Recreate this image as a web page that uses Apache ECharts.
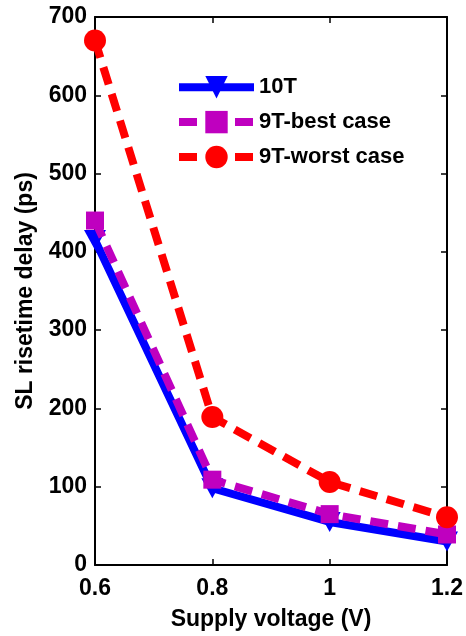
<!DOCTYPE html>
<html>
<head>
<meta charset="utf-8">
<script src="https://cdn.jsdelivr.net/npm/echarts@6/dist/echarts.min.js"></script>
<style>
  html, body { margin: 0; padding: 0; background: #fff; }
  #chart { width: 466px; height: 636px; }
</style>
</head>
<body>
<div id="chart"></div>
<script>
// Supply voltage sweep (V)
const voltages = [0.6, 0.8, 1.0, 1.2];
// SL risetime delay (ps) for each cell design
const delay10T = [415, 98, 55, 30];
const delay9TBest = [440, 109, 65, 39];
const delay9TWorst = [670, 189, 106, 61];

const seriesNames = ['10T', '9T-best case', '9T-worst case'];
const xTicks = [0.6, 0.8, 1.0, 1.2];
const yTicks = [0, 100, 200, 300, 400, 500, 600, 700];

const font = 'Liberation Sans, Arial, sans-serif';

function pairs(xs, ys) {
  return xs.map((x, i) => [x, ys[i]]);
}

const chart = echarts.init(document.getElementById('chart'), null, { renderer: 'canvas' });

const axisLine = { show: true, onZero: false, lineStyle: { color: '#000', width: 2 } };
const tick = { show: true, inside: true, length: 6, lineStyle: { color: '#000', width: 1.5 } };

const styles = [
  { color: '#0000ff', type: 'solid' },
  { color: '#bf00bf', type: [18, 10] },
  { color: '#ff0000', type: [18, 10] }
];

chart.setOption({
  backgroundColor: '#fff',
  animation: false,
  grid: { left: 95, right: 19, top: 17, bottom: 68, containLabel: false },
  legend: {
    left: 170, top: 71,
    orient: 'vertical',
    itemWidth: 75, itemHeight: 28, itemGap: 12.5,
    textStyle: { fontFamily: font, fontWeight: 'bold', fontSize: 22, color: '#000' },
    data: seriesNames.map((n, i) => ({
      name: n,
      lineStyle: { width: 8, color: styles[i].color, type: styles[i].type }
    }))
  },
  xAxis: [{
    type: 'value', min: 0.6, max: 1.2, interval: 0.2,
    axisLine, axisTick: tick, splitLine: { show: false },
    axisLabel: {
      fontFamily: font, fontWeight: 'bold', fontSize: 23, color: '#000', margin: 12,
      formatter: v => {
        const t = xTicks.find(x => Math.abs(x - v) < 1e-6);
        return t === undefined ? '' : String(Math.round(t * 10) / 10);
      }
    },
    name: 'Supply voltage (V)', nameLocation: 'middle', nameGap: 43,
    nameTextStyle: { fontFamily: font, fontWeight: 'bold', fontSize: 23, color: '#000' }
  }, {
    type: 'value', position: 'top', min: 0.6, max: 1.2, interval: 0.2,
    axisLine, axisTick: tick, axisLabel: { show: false }, splitLine: { show: false }
  }],
  yAxis: [{
    type: 'value', min: 0, max: 700, interval: 100,
    axisLine, axisTick: tick, splitLine: { show: false },
    axisLabel: {
      fontFamily: font, fontWeight: 'bold', fontSize: 23, color: '#000', margin: 8,
      formatter: v => yTicks.includes(v) ? String(v) : ''
    },
    name: 'SL risetime delay (ps)', nameLocation: 'middle', nameGap: 58, nameRotate: 90,
    nameTextStyle: { fontFamily: font, fontWeight: 'bold', fontSize: 23, color: '#000' }
  }, {
    type: 'value', position: 'right', min: 0, max: 700, interval: 100,
    axisLine, axisTick: tick, axisLabel: { show: false }, splitLine: { show: false }
  }],
  series: [{
    name: seriesNames[0], type: 'line',
    data: pairs(voltages, delay10T),
    symbol: 'triangle', symbolRotate: 180, symbolSize: [22, 20],
    lineStyle: { color: styles[0].color, width: 8, type: styles[0].type },
    itemStyle: { color: styles[0].color },
    z: 2
  }, {
    name: seriesNames[1], type: 'line',
    data: pairs(voltages, delay9TBest),
    symbol: 'rect', symbolSize: 18,
    lineStyle: { color: styles[1].color, width: 8, type: styles[1].type, cap: 'butt' },
    itemStyle: { color: styles[1].color },
    z: 3
  }, {
    name: seriesNames[2], type: 'line',
    data: pairs(voltages, delay9TWorst),
    symbol: 'circle', symbolSize: 22,
    lineStyle: { color: styles[2].color, width: 8, type: styles[2].type, cap: 'butt' },
    itemStyle: { color: styles[2].color },
    z: 4
  }]
});
</script>
</body>
</html>
